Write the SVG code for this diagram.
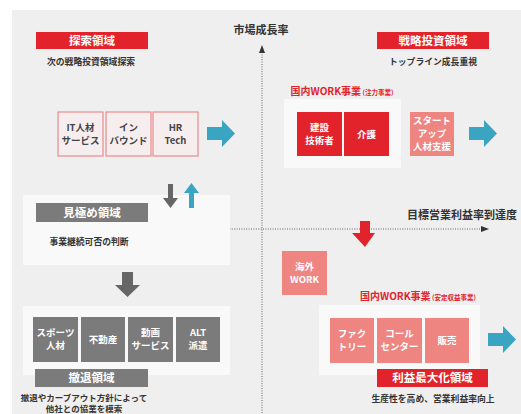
<svg xmlns="http://www.w3.org/2000/svg" width="521" height="414" viewBox="0 0 521 414">
<style>
text{font-family:"Noto Sans CJK JP","Noto Sans",sans-serif;font-weight:bold;text-anchor:middle}
.bg{fill:#efefef}
.panel{fill:#f9f9f9}
.red{fill:#e2232b}
.pink{fill:#ee8580}
.gray{fill:#7b7b7b}
.blue{fill:#3aa5c2}
.outline{fill:#f6eeee;stroke:#eb8a8c;stroke-width:1.2}
.wt{fill:#ffffff;font-size:9.5px}
.bt{fill:#ffffff;font-size:11.5px}
.dt{fill:#444;font-size:9.5px}
.st{fill:#333;font-size:8.8px}
.ax{fill:#333;font-size:11px}
.rt{fill:#e2232b;font-size:10px}
.rs{font-size:6.5px}
.axis{stroke:#666;stroke-width:1;stroke-dasharray:1 1.4;fill:none}
</style>
<rect x="0" y="0" width="521" height="414" fill="#ffffff"/>
<rect class="bg" x="12" y="10" width="509" height="404"/>

<g id="axes">
<line class="axis" x1="262" y1="52" x2="262" y2="414"/>
<polygon points="262,45 259,53 265,53" fill="#333"/>
<line class="axis" x1="35" y1="229" x2="482" y2="229"/>
<polygon points="489,229 481,226 481,232" fill="#333"/>
<text class="ax" x="261" y="34">市場成長率</text>
<text class="ax" x="462" y="219">目標営業利益率到達度</text>
</g>

<g id="explore">
<rect class="red" x="36" y="32" width="112" height="17"/>
<text class="bt" x="92" y="45">探索領域</text>
<text class="st" x="91" y="65">次の戦略投資領域探索</text>
<rect class="outline" x="58" y="112" width="45" height="44"/>
<text class="dt" x="80.5" y="131">IT人材</text>
<text class="dt" x="80.5" y="144">サービス</text>
<rect class="outline" x="106" y="112" width="45" height="44"/>
<text class="dt" x="128.5" y="131">イン</text>
<text class="dt" x="128.5" y="144">バウンド</text>
<rect class="outline" x="153" y="112" width="45" height="44"/>
<text class="dt" x="175.5" y="131">HR</text>
<text class="dt" x="175.5" y="144">Tech</text>
<polygon class="blue" points="207,127 222,127 222,120 235,133.5 222,147 222,140 207,140"/>
</g>

<g id="strategic">
<rect class="red" x="377" y="32" width="112" height="17"/>
<text class="bt" x="433" y="45">戦略投資領域</text>
<text class="st" x="433" y="65">トップライン成長重視</text>
<text class="rt" x="342" y="95">国内WORK事業<tspan class="rs" dx="1.5">(注力事業)</tspan></text>
<rect class="panel" x="284" y="99" width="117" height="69"/>
<rect class="red" x="297" y="112" width="45" height="44"/>
<text class="wt" x="319.5" y="131">建設</text>
<text class="wt" x="319.5" y="144">技術者</text>
<rect class="red" x="344" y="112" width="45" height="44"/>
<text class="wt" x="366.5" y="137.5">介護</text>
<rect class="pink" x="410" y="112" width="44" height="44"/>
<text class="wt" x="432" y="124">スタート</text>
<text class="wt" x="432" y="137">アップ</text>
<text class="wt" x="432" y="150">人材支援</text>
<polygon class="blue" points="469,127 484,127 484,120 497,133.5 484,147 484,140 469,140"/>
</g>

<g id="evaluate">
<rect class="panel" x="23" y="195" width="207" height="70"/>
<rect class="gray" x="36" y="203" width="112" height="19"/>
<text class="bt" x="92" y="216.5">見極め領域</text>
<text class="st" x="89" y="245">事業継続可否の判断</text>
<polygon fill="#666" points="168,184 173,184 173,198 178,198 170.5,208 163,198 168,198"/>
<polygon class="blue" points="189,208 194,208 194,193 199,193 191.5,183 184,193 189,193"/>
<polygon fill="#666" points="122,272 133,272 133,285 140,285 127.5,297 115,285 122,285"/>
</g>

<g id="overseas">
<polygon class="red" points="360,221 370,221 370,233 375,233 365,247 352,233 360,233"/>
<rect class="pink" x="282" y="251" width="45" height="44"/>
<text class="wt" x="304.5" y="270">海外</text>
<text class="wt" x="304.5" y="283">WORK</text>
</g>

<g id="profit">
<text class="rt" x="418" y="300">国内WORK事業<tspan class="rs" dx="1.5">(安定収益事業)</tspan></text>
<rect class="panel" x="319" y="305" width="161" height="70"/>
<rect class="pink" x="330" y="318" width="44" height="45"/>
<text class="wt" x="352" y="337">ファク</text>
<text class="wt" x="352" y="350">トリー</text>
<rect class="pink" x="377" y="318" width="45" height="45"/>
<text class="wt" x="399.5" y="337">コール</text>
<text class="wt" x="399.5" y="350">センター</text>
<rect class="pink" x="425" y="318" width="44" height="45"/>
<text class="wt" x="447" y="344">販売</text>
<polygon class="blue" points="488,333 503,333 503,326 516,339.5 503,353 503,346 488,346"/>
<rect class="red" x="377" y="369" width="111" height="18"/>
<text class="bt" x="432.5" y="382">利益最大化領域</text>
<text class="st" x="433" y="402">生産性を高め、営業利益率向上</text>
</g>

<g id="withdraw">
<rect class="panel" x="23" y="306" width="207" height="69"/>
<rect class="gray" x="33" y="317" width="45" height="45"/>
<text class="wt" x="55.5" y="336">スポーツ</text>
<text class="wt" x="55.5" y="349">人材</text>
<rect class="gray" x="81" y="317" width="44" height="45"/>
<text class="wt" x="103" y="343">不動産</text>
<rect class="gray" x="128" y="317" width="45" height="45"/>
<text class="wt" x="150.5" y="336">動画</text>
<text class="wt" x="150.5" y="349">サービス</text>
<rect class="gray" x="176" y="317" width="44" height="45"/>
<text class="wt" x="198" y="336">ALT</text>
<text class="wt" x="198" y="349">派遣</text>
<rect class="gray" x="35" y="369" width="113" height="18"/>
<text class="bt" x="91.5" y="382">撤退領域</text>
<text class="st" x="84" y="401" style="font-size:8.5px">撤退やカーブアウト方針によって</text>
<text class="st" x="84" y="411.5" style="font-size:8.5px">他社との協業を模索</text>
</g>
</svg>
